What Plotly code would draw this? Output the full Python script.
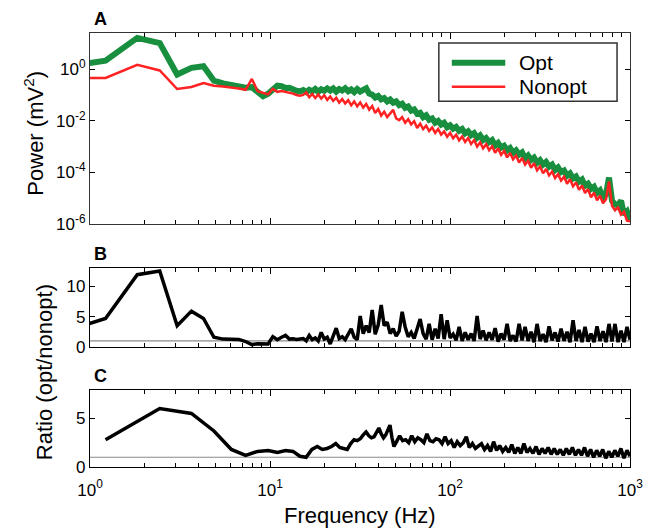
import numpy as np
import plotly.graph_objects as go

# ---------------- data ----------------
# Panel A / B frequency grid (low part, Hz)
freq_low_ab = [0.61, 1.22, 1.83, 2.44, 3.05, 3.66, 4.27, 4.88, 5.49, 6.10, 6.71, 7.32,
               7.93, 8.54, 9.15, 9.76, 10.37, 10.98, 11.59, 12.20, 12.81, 13.42, 14.03, 14.65]
# log10 power (mV^2), Opt
opt_log_low = [0.0, 0.33, 1.21, 1.01, -0.21, 0.05, 0.11, -0.45, -0.55, -0.60, -0.70, -0.72,
               -0.70, -0.88, -1.05, -0.95, -0.75, -0.64, -0.66, -0.73, -0.72, -0.80, -0.84, -0.86]
# log10 power (mV^2), Nonopt
nonopt_log_low = [-0.34, -0.34, 0.17, -0.05, -0.77, -0.69, -0.54, -0.64, -0.67, -0.70, -0.75, -0.80,
                  -0.38, -0.86, -0.92, -0.98, -0.77, -0.88, -0.85, -0.88, -0.92, -0.95, -1.00, -1.03]
opt_log_high = [
    -0.81, -0.89, -0.80, -0.86, -0.77, -0.88, -0.78, -0.84, -0.75, -0.83,
    -0.75, -0.87, -0.77, -0.83, -0.74, -0.86, -0.79, -0.89, -0.77, -0.87,
    -0.77, -0.74, -0.95, -0.99, -1.10, -1.04, -1.17, -1.12, -1.25, -1.18,
    -1.30, -1.25, -1.39, -1.34, -1.50, -1.45, -1.61, -1.56, -1.73, -1.69,
    -1.86, -1.79, -1.96, -1.91, -2.08, -2.01, -2.15, -2.08, -2.25, -2.18,
    -2.31, -2.24, -2.39, -2.32, -2.49, -2.41, -2.56, -2.48, -2.66, -2.57,
    -2.75, -2.67, -2.83, -2.75, -2.96, -2.86, -3.04, -2.97, -3.15, -3.06,
    -3.25, -3.15, -3.31, -3.23, -3.46, -3.35, -3.52, -3.43, -3.63, -3.53,
    -3.70, -3.60, -3.78, -3.70, -3.91, -3.81, -3.99, -3.93, -4.13, -4.04,
    -4.24, -4.16, -4.36, -4.28, -4.52, -4.44, -4.64, -4.56, -4.80, -4.70,
    -4.97, -4.84, -4.20, -5.10, -5.24, -5.28, -5.10, -5.64, -5.52, -5.85]
nonopt_log_high = [
    -1.00, -0.90, -1.09, -0.96, -1.12, -0.98, -1.14, -1.01, -1.19, -1.06,
    -1.23, -1.11, -1.30, -1.16, -1.33, -1.20, -1.40, -1.25, -1.44, -1.29,
    -1.49, -1.35, -1.57, -1.43, -1.70, -1.54, -1.80, -1.65, -1.86, -1.71,
    -1.58, -1.91, -1.98, -1.86, -2.08, -1.94, -2.14, -2.02, -2.28, -2.11,
    -2.32, -2.19, -2.40, -2.26, -2.47, -2.32, -2.54, -2.41, -2.62, -2.47,
    -2.68, -2.54, -2.76, -2.61, -2.82, -2.67, -2.90, -2.75, -3.00, -2.84,
    -3.07, -2.91, -3.14, -2.99, -3.24, -3.07, -3.32, -3.17, -3.42, -3.25,
    -3.50, -3.35, -3.62, -3.44, -3.70, -3.55, -3.82, -3.65, -3.92, -3.77,
    -4.04, -3.87, -4.12, -3.97, -4.22, -4.07, -4.32, -4.17, -4.44, -4.27,
    -4.54, -4.39, -4.68, -4.51, -4.80, -4.65, -4.97, -4.79, -5.08, -4.91,
    -5.20, -5.04, -4.35, -5.30, -5.47, -5.36, -5.64, -5.53, -5.87, -5.90]

# Panel B ratio (opt/nonopt)
ratio_b_low = [1.9, 4.7, 11.9, 12.5, 3.5, 5.9, 4.7, 1.6, 1.3, 1.3, 1.25, 0.9,
               0.4, 0.55, 0.5, 0.5, 1.7, 1.2, 1.6, 1.9, 1.3, 1.35, 1.25, 1.3]
ratio_b_high = [
    1.4, 1.0, 1.9, 1.2, 1.5, 1.0, 2.4, 1.3, 1.6, 0.5,
    1.8, 3.1, 1.4, 1.7, 1.2, 2.2, 3.0, 1.6, 1.2, 5.1,
    2.2, 3.5, 2.4, 6.1, 2.1, 3.6, 6.9, 3.5, 4.1, 2.2,
    3.0, 1.8, 2.6, 5.8, 3.3, 1.7, 2.4, 1.4, 2.8, 4.6,
    2.2, 1.3, 3.8, 1.2, 3.0, 1.4, 5.4, 1.3, 4.4, 1.5,
    2.1, 1.1, 3.3, 1.0, 2.4, 1.2, 2.2, 1.0, 5.1, 1.3,
    2.7, 1.1, 2.4, 1.2, 3.1, 0.9, 2.2, 1.2, 3.8, 1.0,
    1.9, 0.9, 3.8, 1.1, 3.3, 1.0, 2.5, 0.8, 3.8, 1.0,
    2.1, 0.8, 3.4, 1.1, 2.4, 0.9, 3.0, 1.0, 2.5, 0.8,
    4.4, 1.0, 2.8, 0.8, 3.3, 0.9, 2.2, 0.8, 3.4, 1.0,
    2.6, 0.8, 3.8, 0.9, 3.8, 0.8, 2.7, 0.8, 3.3, 1.2]

# Panel C ratio (opt/nonopt)
freq_low_c = [1.22, 2.44, 3.66, 4.88, 6.10, 7.32, 8.54, 9.77, 10.99, 12.21,
              13.43, 14.65, 15.87, 17.09, 18.31, 19.53, 20.75, 21.97, 23.19, 24.41,
              25.63, 26.86, 28.08, 29.30, 30.52, 31.74, 32.96, 34.18, 35.40, 36.62,
              37.84, 39.06, 40.28, 41.50, 42.72, 43.95, 45.17, 46.39, 47.61, 48.83]
ratio_c_low = [2.8, 6.0, 5.5, 3.7, 1.8, 1.2, 1.6, 1.7, 1.5, 1.7,
               1.6, 1.1, 1.0, 1.8, 2.1, 1.8, 1.9, 2.1, 2.4, 2.0,
               1.9, 1.8, 2.4, 2.8, 2.7, 2.9, 3.3, 3.6, 3.2, 3.0,
               3.1, 3.5, 4.0, 3.4, 3.0, 3.3, 3.8, 4.3, 3.0, 2.1]
ratio_c_high = [
    2.6, 3.2, 2.7, 2.8, 2.5, 3.2, 2.6, 3.0, 2.8, 2.5,
    3.4, 2.7, 2.6, 2.9, 2.8, 2.4, 3.1, 2.4, 2.7, 2.0,
    2.6, 2.2, 2.5, 3.1, 2.0, 2.4, 1.9, 2.1, 2.4, 1.8,
    2.2, 1.6, 2.6, 1.7, 2.2, 1.6, 2.0, 1.5, 2.3, 1.4,
    2.0, 1.4, 2.4, 1.5, 1.9, 1.4, 2.1, 1.3, 1.9, 1.4,
    2.0, 1.3, 1.9, 1.3, 1.8, 1.2, 1.9, 1.3, 2.0, 1.2,
    1.8, 1.2, 2.0, 1.1, 1.8, 1.0, 1.7, 1.1, 1.8, 0.9,
    1.6, 1.0, 1.7, 1.1, 1.9, 0.9, 1.7, 1.1]

reference_ratio = 1.0
series_names = ["Opt", "Nonopt"]
x_tick_values = [1, 10, 100, 1000]
x_tick_labels = ["10<sup>0</sup>", "10<sup>1</sup>", "10<sup>2</sup>", "10<sup>3</sup>"]
a_tick_values = [1e-6, 1e-4, 1e-2, 1]
a_tick_labels = ["10<sup>-6</sup>", "10<sup>-4</sup>", "10<sup>-2</sup>", "10<sup>0</sup>"]

# ---------------- build ----------------
freq_high_ab = np.geomspace(15.3, 1000, len(opt_log_high))
freq_high_c = np.geomspace(50.5, 1000, len(ratio_c_high))

freq_ab = np.concatenate([freq_low_ab, freq_high_ab])
opt_power = 10 ** np.array(opt_log_low + opt_log_high)
nonopt_power = 10 ** np.array(nonopt_log_low + nonopt_log_high)
ratio_b = ratio_b_low + ratio_b_high
freq_c = np.concatenate([freq_low_c, freq_high_c])
ratio_c = ratio_c_low + ratio_c_high

GREEN = "#178f3e"
RED = "#ff2222"
FONT = "Liberation Sans, Arial, sans-serif"
OPT_W, NONOPT_W = 6, 2.5

fig = go.Figure()
fig.add_trace(go.Scatter(x=freq_ab, y=opt_power, mode="lines", name=series_names[0],
                         line=dict(color=GREEN, width=OPT_W), xaxis="x", yaxis="y"))
fig.add_trace(go.Scatter(x=freq_ab, y=nonopt_power, mode="lines", name=series_names[1],
                         line=dict(color=RED, width=NONOPT_W), xaxis="x", yaxis="y"))
fig.add_trace(go.Scatter(x=[1, 1000], y=[reference_ratio] * 2, mode="lines",
                         line=dict(color="#8a8a8a", width=1.2), xaxis="x2", yaxis="y2"))
fig.add_trace(go.Scatter(x=freq_ab, y=ratio_b, mode="lines",
                         line=dict(color="black", width=3.5), xaxis="x2", yaxis="y2"))
fig.add_trace(go.Scatter(x=[1, 1000], y=[reference_ratio] * 2, mode="lines",
                         line=dict(color="#8a8a8a", width=1.2), xaxis="x3", yaxis="y3"))
fig.add_trace(go.Scatter(x=freq_c, y=ratio_c, mode="lines",
                         line=dict(color="black", width=3.5), xaxis="x3", yaxis="y3"))

minor_vals = [m * 10 ** d for d in range(3) for m in range(2, 10)]


def xaxis(domain_anchor, labels):
    return dict(type="log", range=[0, 3], domain=[0, 1], anchor=domain_anchor,
                tickvals=x_tick_values, ticktext=x_tick_labels, showticklabels=labels,
                ticks="inside", ticklen=6, tickwidth=1, tickcolor="black",
                ticklabelstandoff=7,
                minor=dict(tickvals=minor_vals, ticks="inside", ticklen=4, tickcolor="black"),
                showline=True, linecolor="black", linewidth=1.2, mirror="ticks",
                showgrid=False, zeroline=False,
                tickfont=dict(size=17, family=FONT, color="black"))


def lin_y(rng, dom, anchor, vals):
    return dict(range=rng, domain=dom, anchor=anchor,
                tickvals=vals, ticks="inside", ticklen=5, tickcolor="black",
                showline=True, linecolor="black", linewidth=1.2, mirror="ticks",
                showgrid=False, zeroline=False,
                tickfont=dict(size=17, family=FONT, color="black"))


fig.update_layout(
    width=656, height=531,
    margin=dict(l=90, r=26, t=33, b=64),
    paper_bgcolor="white", plot_bgcolor="white",
    font=dict(family=FONT, color="black"),
    showlegend=False,
    xaxis=xaxis("y", False),
    xaxis2=xaxis("y2", False),
    xaxis3=xaxis("y3", True),
    yaxis=dict(type="log", range=[-6, 1.4], domain=[0.560, 1.0], anchor="x",
               tickvals=a_tick_values, ticktext=a_tick_labels,
               ticks="inside", ticklen=5, tickcolor="black",
               showline=True, linecolor="#333333", linewidth=1.2, mirror="ticks",
               showgrid=False, zeroline=False,
               tickfont=dict(size=17, family=FONT, color="black")),
    yaxis2=lin_y([0, 13], [0.2765, 0.4585], "x2", [0, 5, 10]),
    yaxis3=lin_y([0, 7.9], [0.0, 0.1774], "x3", [0, 5]),
)
fig.update_xaxes(linecolor="#333333", selector=dict(anchor="y"))

# legend box (drawn as layout decoration to match the original's long line samples)
fig.add_shape(type="rect", xref="paper", yref="paper", x0=0.646, x1=0.976, y0=0.843, y1=0.977,
              line=dict(color="#333333", width=1.5), fillcolor="white", layer="above")
fig.add_shape(type="line", xref="paper", yref="paper", x0=0.670, x1=0.769, y0=0.9316, y1=0.9316,
              line=dict(color=GREEN, width=OPT_W), layer="above")
fig.add_shape(type="line", xref="paper", yref="paper", x0=0.670, x1=0.769, y0=0.876, y1=0.876,
              line=dict(color=RED, width=NONOPT_W), layer="above")
for name, yy in zip(series_names, [0.9316, 0.876]):
    fig.add_annotation(xref="paper", yref="paper", x=0.791, y=yy, text=name, showarrow=False,
                       xanchor="left", yanchor="middle",
                       font=dict(size=21, family=FONT, color="black"))

for letter, ytop in [("A", 1.0), ("B", 0.4585), ("C", 0.1774)]:
    fig.add_annotation(xref="paper", yref="paper", x=0.004, y=ytop, yshift=2,
                       text="<b>%s</b>" % letter, showarrow=False, xanchor="left", yanchor="bottom",
                       font=dict(size=18, family=FONT, color="black"))

fig.add_annotation(xref="paper", yref="paper", x=-0.104, y=0.770, text="Power (mV<sup>2</sup>)",
                   textangle=-90, showarrow=False, xanchor="center", yanchor="middle",
                   font=dict(size=22, family=FONT, color="black"))
fig.add_annotation(xref="paper", yref="paper", x=-0.083, y=0.219, text="Ratio (opt/nonopt)",
                   textangle=-90, showarrow=False, xanchor="center", yanchor="middle",
                   font=dict(size=22, family=FONT, color="black"))
fig.add_annotation(xref="paper", yref="paper", x=0.5, y=-0.111, text="Frequency (Hz)",
                   showarrow=False, xanchor="center", yanchor="middle",
                   font=dict(size=22, family=FONT, color="black"))

fig.write_html("out.html")
